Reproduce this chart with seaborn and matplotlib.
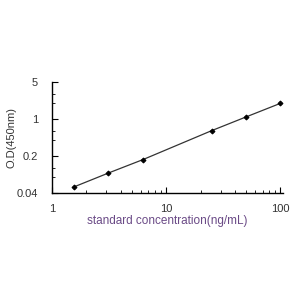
import matplotlib
matplotlib.use("Agg")
import matplotlib.pyplot as plt
import seaborn as sns
import pandas as pd
from matplotlib.ticker import FixedLocator, NullFormatter

conc = [1.5625, 3.125, 6.25, 25, 50, 100]
od = [0.052, 0.095, 0.17, 0.60, 1.09, 1.97]
xticks = [1, 10, 100]
xticklabels = ["1", "10", "100"]
yticks = [0.04, 0.2, 1, 5]
yticklabels = ["0.04", "0.2", "1", "5"]

sns.set_style("white")
plt.rcParams['font.family'] = ['Liberation Sans', 'DejaVu Sans']

df = pd.DataFrame({"conc": conc, "od": od})
fig = plt.figure(figsize=(3, 3), dpi=100)
ax = fig.add_axes([0.173, 0.357, 0.77, 0.37])
sns.lineplot(data=df, x="conc", y="od", ax=ax, color="#333333", lw=0.9,
             marker="D", markersize=2.5, markeredgecolor="black", markerfacecolor="black")
ax.set_xscale("log")
ax.set_yscale("log")
ax.set_xlim(1, 105)
ax.set_ylim(0.04, 5)
sns.despine(ax=ax)
for s in ["left", "bottom"]:
    ax.spines[s].set_color("black")
    ax.spines[s].set_linewidth(1.0)

ax.xaxis.set_major_locator(FixedLocator(xticks))
ax.set_xticklabels(xticklabels)
ax.xaxis.set_minor_locator(FixedLocator([2, 3, 4, 5, 6, 7, 8, 9, 20, 30, 40, 50, 60, 70, 80, 90]))
ax.xaxis.set_minor_formatter(NullFormatter())
ax.yaxis.set_major_locator(FixedLocator(yticks))
ax.set_yticklabels(yticklabels)
ax.yaxis.set_minor_locator(FixedLocator([0.08, 0.12, 0.4, 0.6, 2, 3]))
ax.yaxis.set_minor_formatter(NullFormatter())

ax.tick_params(axis="both", which="both", bottom=True, left=True, top=False, right=False)
ax.tick_params(axis="both", which="major", direction="in", length=4, width=0.8,
               color="black", labelsize=8, labelcolor="#333333")
ax.tick_params(axis="both", which="minor", direction="in", length=2.5, width=0.6, color="black")
ax.tick_params(axis="x", which="major", pad=8)
ax.tick_params(axis="y", which="major", pad=10)

ax.set_xlabel("standard concentration(ng/mL)", fontsize=8.5, color="#6a4a86", labelpad=0.5)
ax.set_ylabel("O.D(450nm)", fontsize=8, color="#333333", labelpad=0)

fig.savefig("out.png", dpi=100)
